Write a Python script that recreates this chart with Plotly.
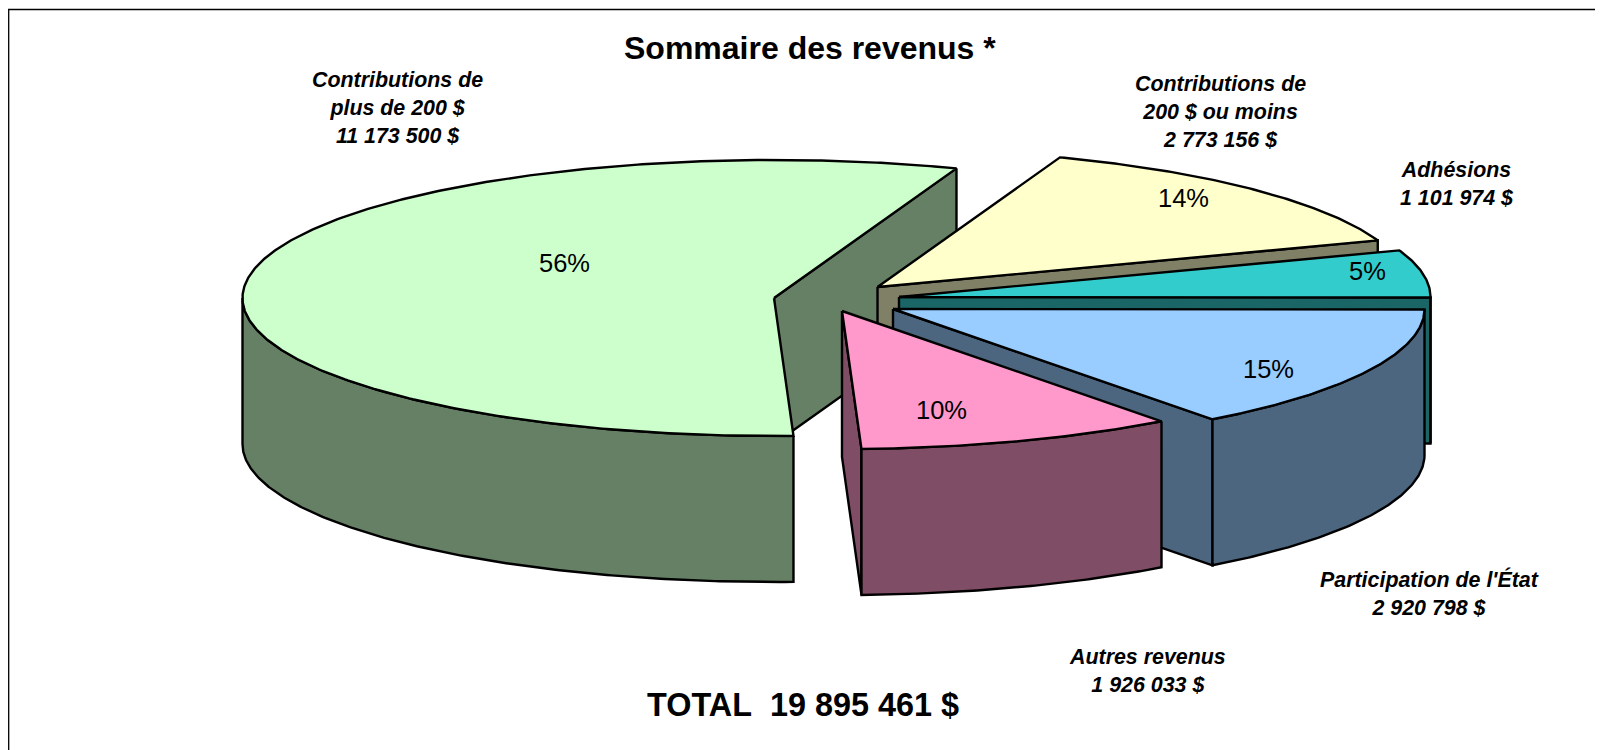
import numpy as np
import plotly.graph_objects as go

# ---- data ----
categories = ["Contributions de<br>plus de 200 $", "Contributions de<br>200 $ ou moins", "Adhésions",
              "Participation de l'État", "Autres revenus"]
amounts = [11173500, 2773156, 1101974, 2920798, 1926033]
amount_labels = ["11 173 500 $", "2 773 156 $", "1 101 974 $", "2 920 798 $", "1 926 033 $"]
percent_labels = ["56%", "14%", "5%", "15%", "10%"]
title_text = "Sommaire des revenus *"
total_text = "TOTAL\u00a0\u00a019 895 461 $"

# ---- styling and pie geometry ----
top_colors = ["#CCFFCC", "#FFFFCC", "#33CCCC", "#99CCFF", "#FF99CC"]
side_colors = ["#668066", "#808066", "#1A6666", "#4D6680", "#804D66"]
START_ANGLE = 177.9          # degrees clockwise from the back of the pie
RX, RY, DEPTH = 531.5, 138.0, 146.0
PIE_X, PIE_Y = 835.0, 298.0  # undisplaced pie centre
pull_x = [-61, 42.5, 64, 58, 7]    # per-slice explosion
pull_y = [0, -11, -1, 11, 13]
label_pos = [(397, 108), (1220, 112), (1457, 184), (1429, 593.5), (1147, 671)]
pct_pos = [(564, 263), (1183, 198), (1367, 271), (1268, 369), (941.5, 410)]
LINE = dict(color="black", width=2.4)
PAGE_MARGIN = 8  # the browser's default body margin


def rim(cx, cy, a0, a1, dz=0.0):
    n = max(2, int(abs(a1 - a0)) * 2 + 2)
    t = np.radians(np.linspace(a0, a1, n))
    return cx + RX * np.sin(t), cy - RY * np.cos(t) + dz


def poly(fig, x, y, color):
    x = np.append(x, x[0])
    y = np.append(y, y[0])
    fig.add_trace(go.Scatter(x=x, y=y, mode="lines", fill="toself", fillcolor=color,
                             line=LINE, hoverinfo="skip", showlegend=False))


def cut_face(fig, cx, cy, a, color):
    rx, ry = rim(cx, cy, a, a)
    rx, ry = rx[0], ry[0]
    poly(fig, np.array([cx, rx, rx, cx]), np.array([cy, ry, ry + DEPTH, cy + DEPTH]), color)


fig = go.Figure()

# frame of the picture
fig.add_trace(go.Scatter(x=[8.7, 8.7, 1603], y=[750, 9.5, 9.5], mode="lines",
                         line=dict(color="black", width=1.3), hoverinfo="skip", showlegend=False))

total = sum(amounts)
angle = START_ANGLE
for i, v in enumerate(amounts):
    a0, a1 = angle, angle + 360.0 * v / total
    angle = a1
    cx, cy = PIE_X + pull_x[i], PIE_Y + pull_y[i]
    # planar cut faces turned toward the viewer
    if np.sin(np.radians(a0)) < -1e-9:
        cut_face(fig, cx, cy, a0, side_colors[i])
    if np.sin(np.radians(a1)) > 1e-9:
        cut_face(fig, cx, cy, a1, side_colors[i])
    # outer wall: only the front half of the cylinder is visible
    for lo, hi in ((90, 270), (450, 630)):
        w0, w1 = max(a0, lo), min(a1, hi)
        if w1 > w0:
            xt, yt = rim(cx, cy, w0, w1)
            xb, yb = rim(cx, cy, w0, w1, DEPTH)
            poly(fig, np.r_[xt, xb[::-1]], np.r_[yt, yb[::-1]], side_colors[i])
    # top face
    xt, yt = rim(cx, cy, a0, a1)
    poly(fig, np.r_[cx, xt], np.r_[cy, yt], top_colors[i])

FONT = "Liberation Sans, Arial, sans-serif"
annotations = [
    dict(x=810, y=47.5, text=f"<b>{title_text}</b>", font=dict(size=32)),
    dict(x=802.5, y=705, text=f"<b>{total_text}</b>", font=dict(size=32.4)),
]
for cat, amt, (lx, ly) in zip(categories, amount_labels, label_pos):
    annotations.append(dict(x=lx, y=ly, text=f"<b><i>{cat}<br>{amt}</i></b>", font=dict(size=21.4)))
for pct, (px, py) in zip(percent_labels, pct_pos):
    annotations.append(dict(x=px, y=py, text=pct, font=dict(size=25.5)))
for a in annotations:
    a.update(xref="x", yref="y", showarrow=False, xanchor="center", yanchor="middle", align="center")
    a["font"].update(family=FONT, color="black")

fig.update_layout(
    width=1603 - PAGE_MARGIN, height=750 - PAGE_MARGIN, margin=dict(l=0, r=0, t=0, b=0),
    paper_bgcolor="white", plot_bgcolor="white", showlegend=False,
    xaxis=dict(range=[PAGE_MARGIN, 1603], visible=False, fixedrange=True),
    yaxis=dict(range=[750, PAGE_MARGIN], visible=False, fixedrange=True),
    annotations=annotations,
)
fig.write_html("out.html", config=dict(displayModeBar=False))
